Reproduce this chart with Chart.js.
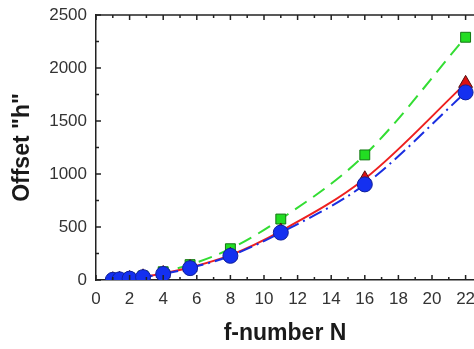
<!DOCTYPE html>
<html>
<head>
<meta charset="utf-8">
<script src="https://cdn.jsdelivr.net/npm/chart.js@4"></script>
<style>
  html, body { margin: 0; padding: 0; background: #fff; }
  #wrap { width: 474px; height: 349px; }
</style>
</head>
<body>
<div id="wrap"><canvas id="chart"></canvas></div>
<script>
// f-numbers along the x axis
const fNumbers = [1, 1.4, 2, 2.8, 4, 5.6, 8, 11, 16, 22];

// offset "h" for each series
const greenValues = [5, 10, 20, 38, 78, 145, 295, 575, 1180, 2290];
const redValues = [3, 8, 15, 30, 62, 118, 235, 462, 955, 1855];
const blueValues = [2, 6, 13, 27, 57, 112, 228, 447, 902, 1770];

const xTicks = [0, 2, 4, 6, 8, 10, 12, 14, 16, 18, 20, 22];
const yTicks = [0, 500, 1000, 1500, 2000, 2500];

function toPoints(values) {
  return fNumbers.map((n, i) => ({ x: n, y: values[i] }));
}

/**
 * Ticks drawn inward, plus the top frame line
 */
const inwardTicks = {
  id: 'inwardTicks',
  afterDatasetsDraw(chart) {
    const { ctx, chartArea, scales } = chart;
    const x = scales.x;
    const y = scales.y;
    ctx.save();
    ctx.strokeStyle = '#222';
    ctx.lineWidth = 1.5;

    // top frame
    ctx.beginPath();
    ctx.moveTo(chartArea.left, chartArea.top);
    ctx.lineTo(chartArea.right, chartArea.top);
    ctx.stroke();

    ctx.beginPath();
    for (let v = 0; v <= 22; v++) {
      const px = x.getPixelForValue(v);
      const len = v % 2 === 0 ? 5 : 3;
      ctx.moveTo(px, chartArea.bottom);
      ctx.lineTo(px, chartArea.bottom - len);
      ctx.moveTo(px, chartArea.top);
      ctx.lineTo(px, chartArea.top + len);
    }
    for (let v = 0; v <= 2500; v += 250) {
      const py = y.getPixelForValue(v);
      const len = v % 500 === 0 ? 5 : 3;
      ctx.moveTo(chartArea.left, py);
      ctx.lineTo(chartArea.left + len, py);
    }
    ctx.stroke();
    ctx.restore();
  }
};

const tickFont = { family: 'Liberation Sans, Arial, sans-serif', size: 17 };
const titleFont = { family: 'Liberation Sans, Arial, sans-serif', size: 23, weight: 'bold' };

const ctx = document.getElementById('chart').getContext('2d');

new Chart(ctx, {
  type: 'line',
  data: {
    datasets: [
      {
        label: 'blue',
        data: toPoints(blueValues),
        order: 1,
        borderColor: '#1a2ee0',
        borderWidth: 2,
        borderDash: [14, 5, 2, 5],
        pointStyle: 'circle',
        pointRadius: 7.5,
        pointBackgroundColor: '#1430f0',
        pointBorderColor: '#10209a',
        pointBorderWidth: 1,
        cubicInterpolationMode: 'monotone',
        fill: false
      },
      {
        label: 'red',
        data: toPoints(redValues),
        order: 2,
        borderColor: '#ee2020',
        borderWidth: 2,
        pointStyle: 'triangle',
        pointRadius: 8,
        pointBackgroundColor: '#dd1111',
        pointBorderColor: '#551111',
        pointBorderWidth: 1,
        cubicInterpolationMode: 'monotone',
        fill: false
      },
      {
        label: 'green',
        data: toPoints(greenValues),
        order: 3,
        borderColor: '#33dd33',
        borderWidth: 2,
        borderDash: [14, 8],
        pointStyle: 'rect',
        pointRadius: 7,
        pointBackgroundColor: '#22dd22',
        pointBorderColor: '#117711',
        pointBorderWidth: 1,
        cubicInterpolationMode: 'monotone',
        fill: false
      }
    ]
  },
  options: {
    responsive: true,
    maintainAspectRatio: false,
    animation: false,
    // the original is cropped on the right, so let the plot run to the edge
    layout: { autoPadding: false, padding: { top: 15, right: 0, left: 0, bottom: 0 } },
    plugins: {
      legend: { display: false },
      tooltip: { enabled: false }
    },
    scales: {
      x: {
        type: 'linear',
        min: 0,
        max: 22.5,
        afterBuildTicks: (scale) => {
          scale.ticks = xTicks.map(v => ({ value: v }));
        },
        afterFit: (scale) => {
          scale.height = 69;
          scale.paddingLeft = 0;
          scale.paddingRight = 0;
        },
        grid: { display: false, drawTicks: false },
        border: { display: true, color: '#222', width: 1.5 },
        ticks: {
          padding: 9,
          color: '#333',
          font: tickFont,
          callback: (v) => String(v)
        },
        title: {
          display: true,
          text: 'f-number N',
          color: '#1a1a1a',
          padding: { top: 0, bottom: 2 },
          font: titleFont
        }
      },
      y: {
        type: 'linear',
        min: 0,
        max: 2500,
        afterBuildTicks: (scale) => {
          scale.ticks = yTicks.map(v => ({ value: v }));
        },
        afterFit: (scale) => {
          scale.width = 96;
          scale.paddingTop = 0;
          scale.paddingBottom = 0;
        },
        grid: { display: false, drawTicks: false },
        border: { display: true, color: '#222', width: 1.5 },
        ticks: {
          padding: 9,
          color: '#333',
          font: tickFont,
          callback: (v) => String(v)
        },
        title: {
          display: true,
          text: 'Offset "h"',
          color: '#1a1a1a',
          padding: { top: 9, bottom: 0 },
          font: titleFont
        }
      }
    }
  },
  plugins: [inwardTicks]
});
</script>
</body>
</html>
